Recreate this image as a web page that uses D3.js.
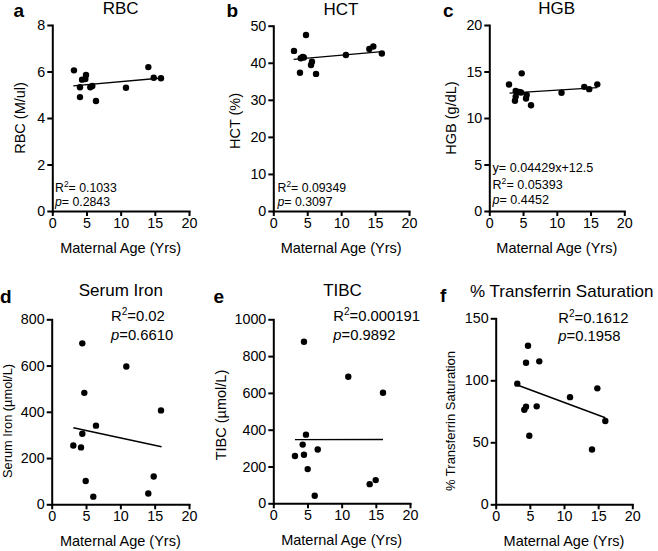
<!DOCTYPE html>
<html><head><meta charset="utf-8">
<script src="https://cdn.jsdelivr.net/npm/d3@7"></script>
<style>
html,body{margin:0;padding:0;background:#fff;}
svg{display:block;font-family:"Liberation Sans",Arial,Helvetica,sans-serif;}
</style></head>
<body><svg id="c" width="658" height="551"></svg>
<script>
// ---- data ----
const xTicks = [0, 5, 10, 15, 20];

const ageRBC = [3.17, 4.05, 4.05, 4.35, 4.83, 4.93, 5.56, 5.85, 6.39, 10.78, 14.05, 14.84, 15.9];
const rbc    = [6.05, 5.32, 4.90, 5.65, 5.68, 5.85, 5.32, 5.38, 4.73, 5.30, 6.19, 5.73, 5.71];
const rbcTicks = [0, 2, 4, 6, 8];
const rbcFit = [3.07, 5.38, 16.0, 5.72];

const ageHCT = [3.05, 3.93, 4.04, 4.33, 4.5, 4.82, 5.56, 5.7, 6.3, 10.7, 14.15, 14.74, 16.0];
const hct    = [43.2, 37.3, 41.2, 41.6, 41.4, 47.5, 39.4, 40.3, 37.0, 42.1, 43.7, 44.4, 42.5];
const hctTicks = [0, 10, 20, 30, 40, 50];
const hctFit = [3.0, 40.9, 16.0, 43.0];

const ageHGB = [2.92, 3.8, 3.91, 3.91, 4.4, 4.7, 4.8, 5.44, 5.54, 6.18, 10.7, 14.07, 14.8, 16.0];
const hgb    = [13.6, 11.86, 12.3, 12.9, 12.8, 12.75, 14.8, 12.1, 12.47, 11.37, 12.72, 13.35, 13.1, 13.62];
const hgbTicks = [0, 5, 10, 15, 20];
const hgbFit = [3.0, 12.68, 16.0, 13.27];

const ageFe = [4.46, 10.87, 4.75, 15.92, 6.45, 4.46, 3.15, 4.27, 4.95, 14.86, 6.06, 14.07];
const fe    = [696, 596, 482, 406, 340, 305, 254, 246, 101, 120, 33, 47];
const feTicks = [0, 200, 400, 600, 800];
const feFit = [3.15, 331, 16.0, 249];

const ageTIBC = [4.49, 10.97, 16.05, 4.78, 4.3, 6.5, 3.17, 4.49, 5.03, 14.98, 14.1, 6.06];
const tibc    = [878, 688, 601, 373, 319, 292, 257, 264, 186, 126, 104, 41];
const tibcTicks = [0, 200, 400, 600, 800, 1000];
const tibcFit = [3.17, 346, 16.05, 347];

const ageTSAT = [4.73, 4.44, 6.38, 3.16, 14.88, 10.88, 4.44, 4.19, 6.0, 16.05, 4.92, 14.1];
const tsat    = [127.9, 114.2, 115.3, 97.3, 93.5, 86.4, 78.7, 76.3, 79.0, 67.2, 55.3, 44.2];
const tsatTicks = [0, 50, 100, 150];
const tsatFit = [3.16, 96.2, 16.05, 69.8];

const letters = ["a", "b", "c", "d", "e", "f"];
const titles = ["RBC", "HCT", "HGB", "Serum Iron", "TIBC", "% Transferrin Saturation"];
const yLabels = ["RBC (M/ul)", "HCT (%)", "HGB (g/dL)", "Serum Iron (\u00b5mol/L)", "TIBC (\u00b5mol/L)", "% Transferrin Saturation"];
const xLabel = "Maternal Age (Yrs)";
const statsA = [["R2", "= 0.1033"], ["p", "= 0.2843"]];
const statsB = [["R2", "= 0.09349"], ["p", "= 0.3097"]];
const statsC = [["y", "= 0.04429x+12.5"], ["R2", "= 0.05393"], ["p", "= 0.4452"]];
const statsD = [["R2", "=0.02"], ["p", "=0.6610"]];
const statsE = [["R2", "=0.000191"], ["p", "=0.9892"]];
const statsF = [["R2", "=0.1612"], ["p", "=0.1958"]];

// ---- layout ----
const layout = [
  {l:52.3, r:189, t:25, b:211, ylx:24.5, yly:118, ylfs:14.5, sx:55, sy:[191.5, 205.5], sfs:12.3, tx:120.7, ty:14.3, lx:13.5, ly:16.7},
  {l:273.3, r:409, t:25.7, b:211, ylx:239.5, yly:121, ylfs:14.5, sx:277.5, sy:[191.5, 205.5], sfs:12.3, tx:341, ty:14.8, lx:226.5, ly:16.7},
  {l:489.3, r:624.3, t:25, b:211, ylx:455.5, yly:118, ylfs:14.5, sx:492.5, sy:[172, 188.5, 204], sfs:12.6, tx:556.7, ty:14.3, lx:443, ly:16.7},
  {l:51.7, r:189, t:319.3, b:504.3, ylx:11.8, yly:421, ylfs:12.8, sx:111, sy:[320.5, 340], sfs:14.8, tx:120.8, ty:296, lx:0, ly:303.3},
  {l:273.3, r:410, t:319.3, b:503.3, ylx:226, yly:415, ylfs:14.5, sx:333.3, sy:[320.7, 340], sfs:14.8, tx:342.5, ty:296, lx:213.5, ly:303.3},
  {l:495.7, r:632.3, t:318.3, b:504.3, ylx:454.7, yly:421, ylfs:13, sx:558.3, sy:[323, 341], sfs:14.8, tx:561.7, ty:296.7, lx:440, ly:301.7}
];

const series = [
  {x: ageRBC, y: rbc, ticks: rbcTicks, fit: rbcFit, stats: statsA},
  {x: ageHCT, y: hct, ticks: hctTicks, fit: hctFit, stats: statsB},
  {x: ageHGB, y: hgb, ticks: hgbTicks, fit: hgbFit, stats: statsC},
  {x: ageFe, y: fe, ticks: feTicks, fit: feFit, stats: statsD},
  {x: ageTIBC, y: tibc, ticks: tibcTicks, fit: tibcFit, stats: statsE},
  {x: ageTSAT, y: tsat, ticks: tsatTicks, fit: tsatFit, stats: statsF}
];

const svg = d3.select("#c");

series.forEach((s, i) => {
  const L = layout[i];
  const g = svg.append("g");
  const xs = d3.scaleLinear().domain([0, 20]).range([L.l, L.r]);
  const ys = d3.scaleLinear().domain([0, d3.max(s.ticks)]).range([L.b, L.t]);

  const xa = g.append("g").attr("transform", `translate(0,${L.b})`)
    .call(d3.axisBottom(xs).tickValues(xTicks).tickFormat(d3.format("d")).tickSize(5).tickPadding(1.5).tickSizeOuter(0));
  const ya = g.append("g").attr("transform", `translate(${L.l},0)`)
    .call(d3.axisLeft(ys).tickValues(s.ticks).tickFormat(d3.format("d")).tickSize(5).tickPadding(2).tickSizeOuter(0));
  [xa, ya].forEach(a => {
    a.attr("font-size", null).attr("font-family", null);
    a.select(".domain").attr("stroke", "#000").attr("stroke-width", 2).attr("stroke-linecap", "square");
    a.selectAll(".tick line").attr("stroke", "#000").attr("stroke-width", 2);
    a.selectAll(".tick text").attr("fill", "#000").style("font-size", "14.3px");
  });

  // fit line
  g.append("line")
    .attr("x1", xs(s.fit[0])).attr("y1", ys(s.fit[1]))
    .attr("x2", xs(s.fit[2])).attr("y2", ys(s.fit[3]))
    .attr("stroke", "#000").attr("stroke-width", 1.4);

  // points
  g.selectAll("circle.pt").data(s.x.map((v, k) => [v, s.y[k]])).join("circle")
    .attr("class", "pt")
    .attr("cx", d => xs(d[0])).attr("cy", d => ys(d[1]))
    .attr("r", 3.2).attr("fill", "#000");

  g.append("text").attr("x", L.tx).attr("y", L.ty).attr("text-anchor", "middle")
    .style("font-size", "17px").text(titles[i]);
  g.append("text").attr("x", L.lx).attr("y", L.ly)
    .style("font-size", "19px").style("font-weight", "bold").text(letters[i]);
  g.append("text").attr("x", (L.l + L.r) / 2).attr("y", L.b + 42)
    .attr("text-anchor", "middle").style("font-size", "14.5px").text(xLabel);
  g.append("text").attr("transform", `translate(${L.ylx},${L.yly}) rotate(-90)`)
    .attr("text-anchor", "middle").style("font-size", L.ylfs + "px").text(yLabels[i]);

  s.stats.forEach((st, j) => {
    const t = g.append("text").attr("x", L.sx).attr("y", L.sy[j]).style("font-size", L.sfs + "px");
    const sup = L.sfs * 0.38;
    if (st[0] === "R2") {
      t.append("tspan").text("R");
      t.append("tspan").attr("dy", -sup).style("font-size", (L.sfs * 0.68) + "px").text("2");
      t.append("tspan").attr("dy", sup).text(st[1]);
    } else if (st[0] === "p") {
      t.append("tspan").style("font-style", "italic").text("p");
      t.append("tspan").text(st[1]);
    } else {
      t.append("tspan").text(st[0]);
      t.append("tspan").text(st[1]);
    }
  });
});
</script></body></html>
